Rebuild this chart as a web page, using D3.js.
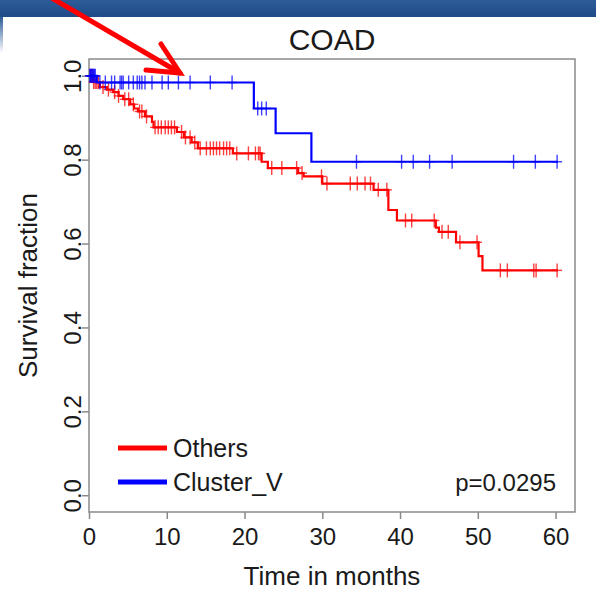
<!DOCTYPE html>
<html>
<head>
<meta charset="utf-8">
<script src="https://cdn.jsdelivr.net/npm/d3@7/dist/d3.min.js"></script>
<style>
  html, body { margin: 0; padding: 0; background: #fff; }
  svg { display: block; }
  text { font-family: "Liberation Sans", Arial, sans-serif; fill: #1a1a1a; }
</style>
</head>
<body>
<svg id="chart" width="596" height="606"></svg>
<script>
// Kaplan-Meier estimates: times (months) where the curve steps, and the level after each step
const othersTimes = [0, 0.5, 1.4, 2.3, 3.1, 3.8, 4.4, 5.3, 5.8, 6.3, 7.2, 8.1, 8.3, 11.3, 12.2, 13.2, 14.0, 18.5,
  22.2, 23.0, 26.9, 27.6, 30.0, 36.6, 38.5, 39.6, 44.6, 45.0, 47.2, 50.1, 50.6];
const othersSurv = [1.0, 0.985, 0.973, 0.967, 0.961, 0.952, 0.944, 0.932, 0.922, 0.915, 0.903, 0.89, 0.877, 0.866, 0.853, 0.841, 0.827, 0.815,
  0.795, 0.78, 0.768, 0.76, 0.743, 0.728, 0.68, 0.655, 0.638, 0.628, 0.603, 0.57, 0.536];
const othersCensored = [0.2, 0.4, 0.6, 0.8, 1.0, 1.2, 1.8, 2.5, 3.3, 3.8, 4.6, 5.1, 5.7, 6.5, 6.8, 7.4, 8.5, 8.9, 9.3, 9.8,
  10.2, 10.6, 11.0, 11.9, 12.4, 13.0, 13.6, 14.3, 15.1, 15.6, 16.0, 16.4, 16.8, 17.3, 17.7, 18.1, 19.0, 20.5, 21.4, 21.8, 22.0,
  23.5, 24.8, 26.7, 27.4, 29.9, 30.6, 33.6, 34.5, 35.5, 36.2, 37.2, 38.3, 40.7, 41.5, 44.4, 45.4, 46.2, 47.7, 49.9,
  52.9, 53.8, 57.2, 57.5, 60.2];
const othersEnd = 60.3;

const clusterTimes = [0, 1.0, 21.2, 24.0, 28.6];
const clusterSurv = [1.0, 0.984, 0.922, 0.863, 0.795];
const clusterCensored = [0.1, 0.2, 0.3, 0.4, 0.5, 0.6, 0.7, 0.8, 1.4, 2.1, 2.9, 3.3, 4.0, 4.2, 4.4, 5.1, 5.7, 6.2, 6.5, 6.8, 7.2,
  8.1, 9.4, 10.2, 11.5, 13.0, 15.6, 18.4, 21.7, 22.2, 22.8, 34.4, 40.2, 41.7, 43.8, 46.7, 54.6, 57.4, 60.2];
const clusterEnd = 60.3;

const groupNames = ["Others", "Cluster_V"];
const groupColors = ["#ff0000", "#0000ff"];
const xTicks = [0, 10, 20, 30, 40, 50, 60];
const yTicks = [0, 0.2, 0.4, 0.6, 0.8, 1.0];
const chartTitle = "COAD";
const xTitle = "Time in months";
const yTitle = "Survival fraction";
const pText = "p=0.0295";

const svg = d3.select("#chart");

// slide banner along the top
const defs = svg.append("defs");
const bg = defs.append("linearGradient").attr("id", "banner").attr("x1", 0).attr("y1", 0).attr("x2", 0).attr("y2", 1);
bg.append("stop").attr("offset", "0%").attr("stop-color", "#2c5c98");
bg.append("stop").attr("offset", "100%").attr("stop-color", "#1f4b88");
svg.append("rect").attr("x", 0).attr("y", 0).attr("width", 596).attr("height", 17).attr("fill", "url(#banner)");
const sg = defs.append("linearGradient").attr("id", "strip").attr("x1", 0).attr("y1", 0).attr("x2", 0).attr("y2", 1);
sg.append("stop").attr("offset", "0%").attr("stop-color", "#2c5c98");
sg.append("stop").attr("offset", "100%").attr("stop-color", "#ffffff");
svg.append("rect").attr("x", 0).attr("y", 17).attr("width", 3).attr("height", 36).attr("fill", "url(#strip)");

// plotting region
const box = { left: 89, right: 575, top: 59, bottom: 512 };
const x = d3.scaleLinear().domain([0, 62.5]).range([box.left, box.right]);
const y = d3.scaleLinear().domain([-0.04, 1.04]).range([box.bottom, box.top]);

svg.append("text").attr("x", (box.left + box.right) / 2).attr("y", 50)
  .attr("text-anchor", "middle").style("font-size", "30px").text(chartTitle);

const axisColor = "#8a8a8a";

const gx = svg.append("g").attr("transform", `translate(0,${box.bottom})`)
  .call(d3.axisBottom(x).tickValues(xTicks).tickFormat(d3.format("d")).tickSize(7).tickPadding(9));
const gy = svg.append("g").attr("transform", `translate(${box.left},0)`)
  .call(d3.axisLeft(y).tickValues(yTicks).tickFormat(d3.format(".1f")).tickSize(7));
[gx, gy].forEach(g => {
  g.select(".domain").remove();
  g.selectAll(".tick line").attr("stroke", axisColor).attr("stroke-width", 1.5);
  g.selectAll(".tick text").style("font-size", "24px").attr("fill", "#1a1a1a");
});
gy.selectAll(".tick text")
  .attr("x", null).attr("dy", null)
  .attr("text-anchor", "middle")
  .attr("transform", "translate(-8,0) rotate(-90)");

svg.append("rect").attr("x", box.left).attr("y", box.top)
  .attr("width", box.right - box.left).attr("height", box.bottom - box.top)
  .attr("fill", "none").attr("stroke", axisColor).attr("stroke-width", 1.5);

svg.append("text").attr("transform", `translate(37,${(box.top + box.bottom) / 2}) rotate(-90)`)
  .attr("text-anchor", "middle").style("font-size", "26px").text(yTitle);
svg.append("text").attr("x", (box.left + box.right) / 2).attr("y", 585)
  .attr("text-anchor", "middle").style("font-size", "26px").text(xTitle);

// survival curves with censoring marks
const stepLine = d3.line().x(d => x(d[0])).y(d => y(d[1])).curve(d3.curveStepAfter);
function drawGroup(times, surv, censored, end, color) {
  const pts = times.map((t, i) => [t, surv[i]]);
  pts.push([end, surv[surv.length - 1]]);
  svg.append("path").datum(pts).attr("d", stepLine)
    .attr("fill", "none").attr("stroke", color).attr("stroke-width", 2.2);
  const level = t => surv[Math.max(0, d3.bisectRight(times, t) - 1)];
  const marks = svg.append("g").attr("stroke", color).attr("stroke-width", 1.4).attr("stroke-opacity", 0.75);
  censored.forEach(t => {
    const cx = x(t), cy = y(level(t));
    marks.append("line").attr("x1", cx).attr("x2", cx).attr("y1", cy - 7).attr("y2", cy + 7);
    marks.append("line").attr("x1", cx - 5).attr("x2", cx + 5).attr("y1", cy).attr("y2", cy);
  });
}
drawGroup(othersTimes, othersSurv, othersCensored, othersEnd, groupColors[0]);
drawGroup(clusterTimes, clusterSurv, clusterCensored, clusterEnd, groupColors[1]);

// legend
const legend = svg.append("g");
groupNames.forEach((name, i) => {
  const ly = 448 + i * 34;
  legend.append("line").attr("x1", 118).attr("x2", 167).attr("y1", ly).attr("y2", ly)
    .attr("stroke", groupColors[i]).attr("stroke-width", 5);
  legend.append("text").attr("x", 173).attr("y", ly + 9).style("font-size", "25px").text(name);
});
svg.append("text").attr("x", 556).attr("y", 491).attr("text-anchor", "end")
  .style("font-size", "24px").text(pText);

// pointer arrow
const arrow = svg.append("g").attr("stroke", "#ff0000").attr("stroke-width", 5)
  .attr("stroke-linecap", "round").attr("fill", "none");
arrow.append("line").attr("x1", 50).attr("y1", -3).attr("x2", 180).attr("y2", 73);
arrow.append("polyline").attr("points", "161,44 180,73 146,70").attr("stroke-linejoin", "miter");
</script>
</body>
</html>
